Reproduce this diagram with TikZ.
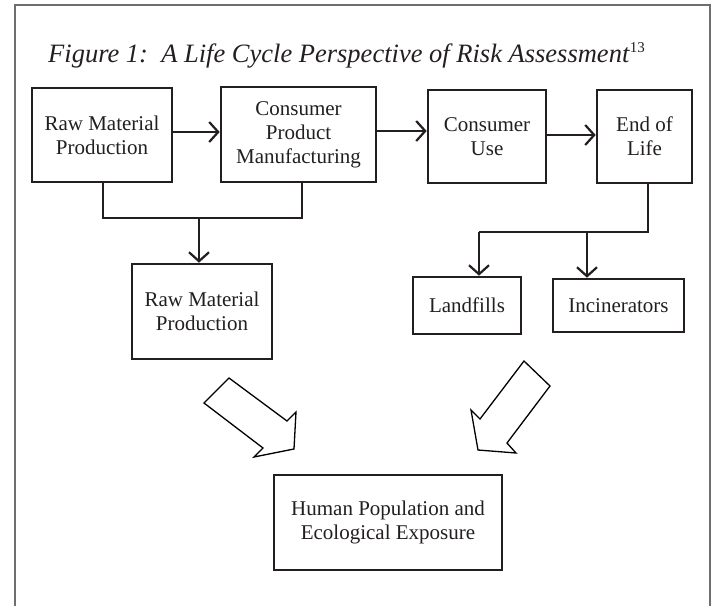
\documentclass[tikz,border=0pt]{standalone}
\usepackage{fontspec}
\setmainfont{Liberation Serif}
\usetikzlibrary{arrows.meta}
\definecolor{ink}{HTML}{231F20}
\definecolor{framegray}{HTML}{6D6E71}
\begin{document}
\begin{tikzpicture}[x=1pt,y=-1pt,
  box/.style={draw=ink, line width=2.6pt, fill=white, inner sep=0pt, align=center,
              font=\fontsize{21}{24}\selectfont, text=ink},
  conn/.style={draw=ink, line width=2.2pt},
  arr/.style={conn, -{Straight Barb[length=9pt,width=20pt,line width=2.2pt]}},
  blockarrow/.style={draw=black, line width=1.3pt, fill=white, line join=miter}]
\useasboundingbox (0,0) rectangle (716,606);
% frame
\draw[framegray, line width=2pt] (15,620) -- (15,5) -- (710,5) -- (710,620);
% title
\node[anchor=base west, inner sep=0pt, text=ink, font=\fontsize{26.5}{30}\selectfont\itshape] (title) at (48,62)
  {Figure 1:\ \ A Life Cycle Perspective of Risk Assessment\kern0.5pt\raisebox{10pt}{\upshape\fontsize{15}{15}\selectfont 13}};
% boxes
\node[box, minimum width=140pt, minimum height=94pt] (b1) at (102,135) {Raw Material\\Production};
\node[box, minimum width=155pt, minimum height=95pt] (b2) at (298.5,134.5) {Consumer\\Product\\Manufacturing};
\node[box, minimum width=118pt, minimum height=93pt] (b3) at (487,136.5) {Consumer\\Use};
\node[box, minimum width=95pt, minimum height=93pt] (b4) at (644.5,136.5) {End of\\Life};
\node[box, minimum width=140pt, minimum height=95pt] (b5) at (202,311.5) {Raw Material\\Production};
\node[box, minimum width=108pt, minimum height=57pt] (land) at (467,305.5) {Landfills};
\node[box, minimum width=131pt, minimum height=53pt] (inc) at (618.5,305.5) {Incinerators};
\node[box, minimum width=228pt, minimum height=95pt] (hum) at (388,522.5) {Human Population and\\Ecological Exposure};
% horizontal flow
\draw[arr] ([yshift=3pt]b1.east) -- ([yshift=3pt]b1.east -| b2.west);
\draw[arr] ([yshift=3.5pt]b2.east) -- ([yshift=3.5pt]b2.east -| b3.west);
\draw[arr] ([yshift=1.5pt]b3.east) -- ([yshift=1.5pt]b3.east -| b4.west);
% merge into lower raw material production
\coordinate (j1) at (199,218);
\draw[conn, line join=miter] ([xshift=1pt]b1.south) |- (j1) -| ([xshift=3.5pt]b2.south);
\draw[arr] (j1) -- (j1 |- b5.north);
% split from end of life
\coordinate (j2) at (479,232);
\coordinate (j3) at (587,232);
\draw[conn, line join=miter] ([xshift=3.5pt]b4.south) |- (j2);
\draw[arr] (j2) -- (j2 |- land.north);
\draw[arr] (j3) -- (j3 |- inc.north);
% block arrows
\draw[blockarrow] (204,403) -- (229,378) -- (287,421) -- (296,412) -- (294,449) -- (254,457) -- (263,448) -- cycle;
\draw[blockarrow] (524,361) -- (550,386) -- (507,443) -- (516,453) -- (478,450) -- (471,410) -- (480,419) -- cycle;
\end{tikzpicture}
\end{document}
